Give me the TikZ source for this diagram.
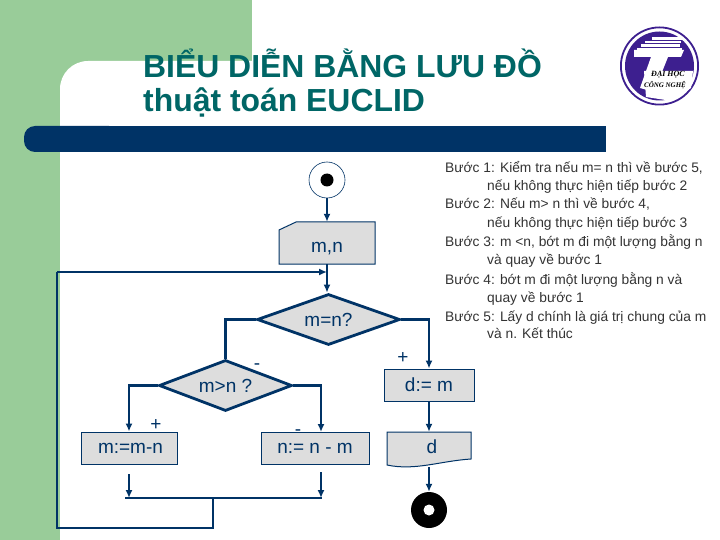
\documentclass[tikz,border=0pt]{standalone}
\usepackage{fontspec}
\setmainfont{Liberation Sans}
\newfontfamily\logofont{Liberation Serif}
\usetikzlibrary{arrows.meta,positioning,shapes.geometric}
\definecolor{navy}{HTML}{003366}
\definecolor{leaf}{HTML}{99CC99}
\definecolor{boxgray}{HTML}{DDDDDD}
\definecolor{teal}{HTML}{006666}
\definecolor{stepink}{HTML}{333333}
\definecolor{logoink}{HTML}{3D1F8F}
\begin{document}
\begin{tikzpicture}[x=1pt,y=-1pt,font=\fontsize{19}{22}\selectfont,>={Latex[length=8pt,width=7pt]},
flow/.style={->, line width=2.8pt, draw=navy},
wire/.style={line width=2.8pt, draw=navy},
box/.style={draw=navy, fill=boxgray, line width=1pt, inner sep=0pt, text=navy},
test/.style={diamond, draw=navy, fill=boxgray, line width=2.8pt, aspect=2.8, inner sep=0pt, text=navy, minimum width=143pt, minimum height=51pt},
sign/.style={text=navy, inner sep=0pt},
titleline/.style={anchor=base west, inner sep=0pt, text=teal, font=\fontsize{31.9}{36}\selectfont\bfseries},
stepline/.style={anchor=base west, inner sep=0pt, text=stepink, font=\fontsize{13.8}{16}\selectfont}]
\useasboundingbox (0,0) rectangle (720,540);
% background
\fill[white] (0,0) rectangle (720,540);
\fill[leaf] (0,0) rectangle (252,61);
\fill[leaf] (0,61) rectangle (60,540);
\fill[leaf] (60,61) rectangle (100,100);
\fill[white, rounded corners=28pt] (60,600) -- (60,61) -- (300,61) -- (300,600) -- cycle;
\fill[navy, rounded corners=11pt] (24,126) rectangle (120,152);
\fill[navy] (60,126) rectangle (606,152);
\node[titleline] (title1) at (143,78) {BIỂU DIỄN BẰNG LƯU ĐỒ};
\node[titleline] (title2) at (143,112) {thuật toán EUCLID};
% logo
\draw[logoink, line width=1.8pt] (659.5,66) circle[radius=38.6];
\fill[logoink] (659.5,66) circle[radius=34.5];
\fill[white] (634,50) -- (684,50) -- (681,57) -- (668,57) -- (654,92) -- (640,88) -- (651,57) -- (634,57) -- cycle;
\fill[white] (644,71) -- (693,71) -- (691,88) -- (672,101) -- (646,97) -- cycle;
\foreach \a/\b/\y in {652/683/38.5,645/681/42,641/680/45.5,637/682/49}{\draw[white, line width=2.1pt] (\a,\y) -- (\b,\y);}
\node[text=black, inner sep=0pt, font=\logofont\fontsize{8}{9}\selectfont\bfseries\itshape] (logo1) at (668,75) {ĐẠI HỌC};
\node[text=black, inner sep=0pt, font=\logofont\fontsize{7}{8}\selectfont\bfseries\itshape] (logo2) at (665,85) {CÔNG NGHỆ};
% steps
\node[stepline] (s1) at (445,173) {Bước 1: Kiểm tra nếu m= n thì về bước 5,};
\node[stepline] (s1b) at (487,191) {nếu không thực hiện tiếp bước 2};
\node[stepline] (s2) at (445,209) {Bước 2: Nếu m> n thì về bước 4,};
\node[stepline] (s2b) at (487,227) {nếu không thực hiện tiếp bước 3};
\node[stepline] (s3) at (445,247) {Bước 3: m <n, bớt m đi một lượng bằng n};
\node[stepline] (s3b) at (487,264) {và quay về bước 1};
\node[stepline] (s4) at (445,284) {Bước 4: bớt m đi một lượng bằng n và};
\node[stepline] (s4b) at (487,302) {quay về bước 1};
\node[stepline] (s5) at (445,321) {Bước 5: Lấy d chính là giá trị chung của m};
\node[stepline] (s5b) at (487,338) {và n. Kết thúc};
% flow chart
\node[circle, draw=navy, line width=0.6pt, minimum size=36pt, inner sep=0pt] (start) at (327,180) {};
\fill[black] (start.center) circle[radius=6.5];
\draw[box] (279,230) -- (296,222) -- (375,222) -- (375,264) -- (279,264) -- cycle;
\node[inner sep=0pt, minimum width=96pt, minimum height=42pt] (input) at (327,243) {};
\node[sign] (inputtext) at (327,249) {m,n};
\node[test] (eq) at (328.5,319.5) {m=n?};
\node[test, minimum width=133pt] (gt) at (225.5,385.5) {m>n ?};
\node[box, minimum width=96pt, minimum height=32pt] (sub1) at (129,448) {\hspace*{3pt}m:=m-n};
\node[box, minimum width=108pt, minimum height=32pt] (sub2) at (315,448) {n:= n - m};
\node[box, minimum width=90pt, minimum height=32pt] (res) at (429,385) {d:= m};
\draw[box] (387,432) -- (471,432) -- (471,459) .. controls (440,461) and (415,471) .. (387,465) -- cycle;
\node[inner sep=0pt, minimum width=84pt, minimum height=35pt] (out) at (429,449.5) {};
\node[sign] (outtext) at (432,447) {d};
\node[circle, fill=black, minimum size=36pt, inner sep=0pt] (stop) at (429,510) {};
\fill[white] (stop.center) circle[radius=5.5];
\node[sign] (plus1) at (403,358) {+};
\node[sign] (minus1) at (257,367) {-};
\node[sign] (plus2) at (156,425) {+};
\node[sign] (minus2) at (298,433) {-};
% joins
\coordinate (back) at (327,272);
\coordinate (sub2top) at (321,432);
\coordinate (sub1from) at (129,474);
\coordinate (sub2from) at (321,472);
\coordinate (join0) at (125,498);
\coordinate (join1) at (129,498);
\coordinate (join2) at (322,498);
\coordinate (joinb) at (213,498);
\coordinate (corner) at (57,528);
\coordinate (left) at (57,272);
% connectors
\draw[flow] (start) -- (input.north);
\draw[flow] (input.south) -- (input.south |- eq.north);
\draw[wire] (eq.west) -| (gt.north);
\draw[flow] (eq.east) -| (res.north);
\draw[flow] (gt.west) -| (sub1.north);
\draw[flow] (gt.east) -| (sub2top);
\draw[flow] (res.south) -- (out.north);
\draw[flow] (out.south) -- (stop.north);
\draw[flow] (sub1from) -- (join1);
\draw[flow] (sub2from) -- (sub2from |- join2);
\draw[wire] (join0) -- (join2);
\draw[wire] (joinb) |- (corner) -- (left);
\draw[flow] (left) -- (back);
\end{tikzpicture}
\end{document}
